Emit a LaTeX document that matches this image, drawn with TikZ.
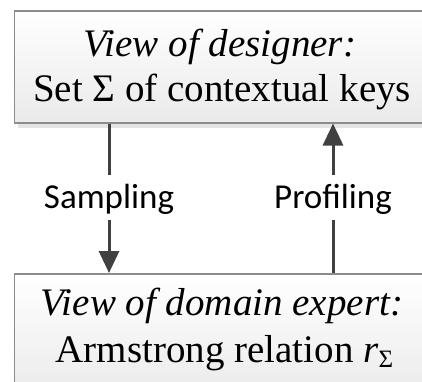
\documentclass[tikz,border=0pt]{standalone}
\usepackage{fontspec}
\setmainfont{Liberation Serif}
\newfontfamily\calib{Carlito}
\usetikzlibrary{arrows.meta}
\definecolor{boxline}{RGB}{140,140,140}
\definecolor{boxbot}{RGB}{234,234,234}
\definecolor{shadowc}{RGB}{228,228,228}
\definecolor{arrc}{RGB}{64,64,64}
\tikzset{
  viewbox/.style={rectangle, draw=boxline, line width=1.5pt, top color=white, bottom color=boxbot,
    minimum width=440pt, minimum height=112pt, inner sep=0pt, anchor=north west},
  boxtext/.style={anchor=base, inner sep=0pt, font=\fontsize{39}{46}\selectfont},
  lab/.style={anchor=base, inner sep=0pt, font=\calib\fontsize{35}{42}\selectfont, text height=33pt, text depth=12pt},
  conn/.style={draw=arrc, line width=3pt},
  arr/.style={conn, -{Triangle[width=20pt,length=22pt]}}
}
\begin{document}
\begin{tikzpicture}[x=1pt,y=-1pt]
\useasboundingbox (0,0) rectangle (422,381);
\clip (0,0) rectangle (422,381);
% shadows
\fill[shadowc] (18,15) rectangle (460,128);
\fill[shadowc] (18,278) rectangle (460,400);
% boxes
\node[viewbox] (designer) at (13.5,10) {};
\node[viewbox, minimum height=125pt] (expert) at (13.5,273) {};
% texts
\node[boxtext] (t1) at (220,56) {\itshape View of designer:};
\node[boxtext] (t2) at (222,101) {Set Σ of contextual keys};
\node[boxtext] (t3) at (222,315) {\itshape View of domain expert:};
\node[boxtext] (t4) at (224.5,362) {Armstrong relation \textit{r}\raisebox{-5pt}{\fontsize{25}{25}\selectfont Σ}};
% labels
\node[lab] (samp) at (109,208) {Sampling};
\node[lab] (prof) at (333,208) {Profiling};
% connectors
\draw[conn] (samp.north |- designer.south) -- (samp.north);
\draw[arr] (samp.south) -- (samp.south |- expert.north);
\draw[conn] (prof.south |- expert.north) -- (prof.south);
\draw[arr] (prof.north) -- (prof.north |- designer.south);
\end{tikzpicture}
\end{document}
